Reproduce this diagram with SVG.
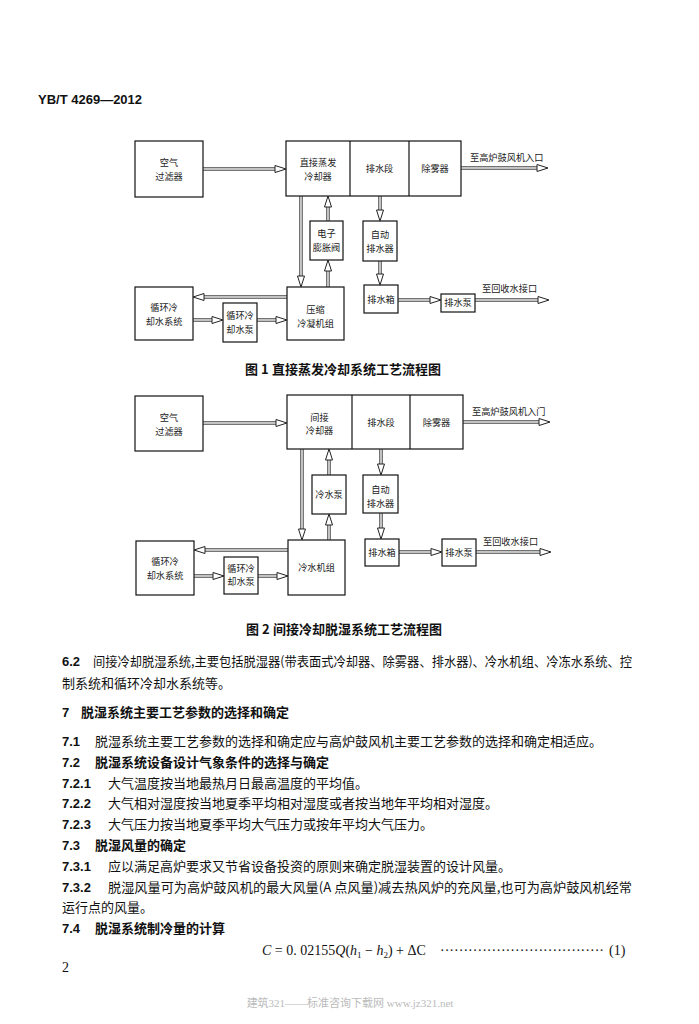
<svg xmlns="http://www.w3.org/2000/svg" width="699" height="1024" viewBox="0 0 699 1024">
<style>
.bx{fill:none;stroke:#111;stroke-width:1.2}
.t{font-family:"Noto Sans CJK SC",sans-serif;font-size:9.2px;fill:#222;text-anchor:middle}
.tl{font-family:"Noto Sans CJK SC",sans-serif;font-size:9.2px;fill:#222}
.sh{stroke:#222;stroke-width:0.9;fill:none}
.ah{fill:#fff;stroke:#222;stroke-width:1}
.bd{font-family:"Noto Sans CJK SC",sans-serif;font-size:13px;fill:#111}
.num{font-family:"Liberation Sans","Noto Sans CJK SC",sans-serif;font-size:13px;font-weight:bold;fill:#111}
.b{font-weight:bold}
.cap{font-family:"Noto Sans CJK SC",sans-serif;font-size:13px;font-weight:bold;fill:#111}
.eq{font-family:"Liberation Serif","Noto Sans CJK SC",serif;font-size:14px;fill:#111}
</style>
<rect width="699" height="1024" fill="#fff"/>
<text x="38" y="104" class="num">YB/T 4269—2012</text>

<!-- Figure 1 -->
<g id="f1-filter"><rect class="bx" x="135" y="141" width="68" height="56"/><text class="t" x="169" y="166">空气</text><text class="t" x="169" y="179.5">过滤器</text></g>
<g id="f1-main"><rect class="bx" x="286" y="141" width="175" height="55"/><line class="bx" x1="350" y1="141" x2="350" y2="196"/><line class="bx" x1="409" y1="141" x2="409" y2="196"/>
<text class="t" x="318" y="166">直接蒸发</text><text class="t" x="318" y="179.5">冷却器</text>
<text class="t" x="379.5" y="172">排水段</text><text class="t" x="435" y="172">除雾器</text></g>
<g id="f1-valve"><rect class="bx" x="310" y="221" width="33" height="39"/><text class="t" x="326.5" y="237">电子</text><text class="t" x="326.5" y="250.5">膨胀阀</text></g>
<g id="f1-auto"><rect class="bx" x="363" y="221" width="34" height="40"/><text class="t" x="380" y="238">自动</text><text class="t" x="380" y="251.5">排水器</text></g>
<g id="f1-comp"><rect class="bx" x="287" y="287" width="57" height="53"/><text class="t" x="315.5" y="313">压缩</text><text class="t" x="315.5" y="326.5">冷凝机组</text></g>
<g id="f1-cws"><rect class="bx" x="135" y="287" width="58" height="53"/><text class="t" x="164" y="311">循环冷</text><text class="t" x="164" y="324.5">却水系统</text></g>
<g id="f1-cwp"><rect class="bx" x="223" y="303" width="34" height="39"/><text class="t" x="240" y="319">循环冷</text><text class="t" x="240" y="332.5">却水泵</text></g>
<g id="f1-box"><rect class="bx" x="364" y="285" width="34" height="28"/><text class="t" x="381" y="302.5">排水箱</text></g>
<g id="f1-pump"><rect class="bx" x="441" y="294" width="34" height="18"/><text class="t" x="458" y="306">排水泵</text></g>
<text class="tl" x="470" y="161">至高炉鼓风机入口</text>
<text class="tl" x="482" y="292">至回收水接口</text>
<g id="f1-conn">
<path class="sh" d="M203 167.8H275M203 170.2H275"/><polygon class="ah" points="275,165.5 286,169 275,172.5"/>
<path class="sh" d="M461 166.8H537M461 169.2H537"/><polygon class="ah" points="537,164.5 548,168 537,171.5"/>
<path class="sh" d="M326.8 221V207M329.2 221V207"/><polygon class="ah" points="324.5,207 328,196 331.5,207"/>
<path class="sh" d="M299.8 196V276M302.2 196V276"/><polygon class="ah" points="297.5,276 301,287 304.5,276"/>
<path class="sh" d="M326.8 287V271M329.2 287V271"/><polygon class="ah" points="324.5,271 328,260 331.5,271"/>
<path class="sh" d="M287 295.8H204M287 298.2H204"/><polygon class="ah" points="204,293.5 193,297 204,300.5"/>
<path class="sh" d="M193 318.8H212M193 321.2H212"/><polygon class="ah" points="212,316.5 223,320 212,323.5"/>
<path class="sh" d="M257 318.8H276M257 321.2H276"/><polygon class="ah" points="276,316.5 287,320 276,323.5"/>
<path class="sh" d="M378.8 196V210M381.2 196V210"/><polygon class="ah" points="376.5,210 380,221 383.5,210"/>
<path class="sh" d="M378.8 261V274M381.2 261V274"/><polygon class="ah" points="376.5,274 380,285 383.5,274"/>
<path class="sh" d="M398 298.8H430M398 301.2H430"/><polygon class="ah" points="430,296.5 441,300 430,303.5"/>
<path class="sh" d="M475 298.8H538M475 301.2H538"/><polygon class="ah" points="538,296.5 549,300 538,303.5"/>
</g>
<text class="cap" x="245" y="374">图 1<tspan x="272">直接蒸发冷却系统工艺流程图</tspan></text>

<!-- Figure 2 -->
<g id="f2-filter"><rect class="bx" x="135" y="396" width="68" height="55"/><text class="t" x="169" y="421">空气</text><text class="t" x="169" y="434.5">过滤器</text></g>
<g id="f2-main"><rect class="bx" x="287" y="395" width="176" height="54"/><line class="bx" x1="352" y1="395" x2="352" y2="449"/><line class="bx" x1="410" y1="395" x2="410" y2="449"/>
<text class="t" x="319.5" y="420.5">间接</text><text class="t" x="319.5" y="434">冷却器</text>
<text class="t" x="381" y="425.5">排水段</text><text class="t" x="436.5" y="425.5">除雾器</text></g>
<g id="f2-cwpump"><rect class="bx" x="312" y="475" width="34" height="39"/><text class="t" x="329" y="497.5">冷水泵</text></g>
<g id="f2-auto"><rect class="bx" x="363" y="475" width="35" height="38"/><text class="t" x="380.5" y="493">自动</text><text class="t" x="380.5" y="506.5">排水器</text></g>
<g id="f2-chiller"><rect class="bx" x="288" y="540" width="57" height="55"/><text class="t" x="316.5" y="571">冷水机组</text></g>
<g id="f2-cws"><rect class="bx" x="136" y="541" width="58" height="54"/><text class="t" x="165" y="565">循环冷</text><text class="t" x="165" y="578.5">却水系统</text></g>
<g id="f2-cwp"><rect class="bx" x="224" y="557" width="34" height="37"/><text class="t" x="241" y="571.5">循环冷</text><text class="t" x="241" y="585">却水泵</text></g>
<g id="f2-box"><rect class="bx" x="365" y="539" width="34" height="27"/><text class="t" x="382" y="555.5">排水箱</text></g>
<g id="f2-pump"><rect class="bx" x="442" y="539" width="34" height="27"/><text class="t" x="459" y="555.5">排水泵</text></g>
<text class="tl" x="472" y="415">至高炉鼓风机入门</text>
<text class="tl" x="483" y="545">至回收水接口</text>
<g id="f2-conn">
<path class="sh" d="M203 421.8H276M203 424.2H276"/><polygon class="ah" points="276,419.5 287,423 276,426.5"/>
<path class="sh" d="M463 420.8H539M463 423.2H539"/><polygon class="ah" points="539,418.5 550,422 539,425.5"/>
<path class="sh" d="M327.8 475V460M330.2 475V460"/><polygon class="ah" points="325.5,460 329,449 332.5,460"/>
<path class="sh" d="M300.8 449V529M303.2 449V529"/><polygon class="ah" points="298.5,529 302,540 305.5,529"/>
<path class="sh" d="M327.8 540V525M330.2 540V525"/><polygon class="ah" points="325.5,525 329,514 332.5,525"/>
<path class="sh" d="M288 548.8H205M288 551.2H205"/><polygon class="ah" points="205,546.5 194,550 205,553.5"/>
<path class="sh" d="M194 574.8H213M194 577.2H213"/><polygon class="ah" points="213,572.5 224,576 213,579.5"/>
<path class="sh" d="M258 574.8H277M258 577.2H277"/><polygon class="ah" points="277,572.5 288,576 277,579.5"/>
<path class="sh" d="M379.8 449V464M382.2 449V464"/><polygon class="ah" points="377.5,464 381,475 384.5,464"/>
<path class="sh" d="M379.8 513V528M382.2 513V528"/><polygon class="ah" points="377.5,528 381,539 384.5,528"/>
<path class="sh" d="M399 550.8H431M399 553.2H431"/><polygon class="ah" points="431,548.5 442,552 431,555.5"/>
<path class="sh" d="M476 550.8H540M476 553.2H540"/><polygon class="ah" points="540,548.5 551,552 540,555.5"/>
</g>
<text class="cap" x="246" y="634">图 2<tspan x="273">间接冷却脱湿系统工艺流程图</tspan></text>

<!-- Body text -->
<text class="num" x="62" y="666">6.2</text>
<text class="bd" x="93" y="666" textLength="539" lengthAdjust="spacingAndGlyphs">间接冷却脱湿系统,主要包括脱湿器(带表面式冷却器、除雾器、排水器)、冷水机组、冷冻水系统、控</text>
<text class="bd" x="62" y="688">制系统和循环冷却水系统等。</text>
<text class="num" x="62" y="717">7</text>
<text class="bd b" x="81" y="717">脱湿系统主要工艺参数的选择和确定</text>
<text class="num" x="62" y="746">7.1</text>
<text class="bd" x="95" y="746">脱湿系统主要工艺参数的选择和确定应与高炉鼓风机主要工艺参数的选择和确定相适应。</text>
<text class="num" x="62" y="767">7.2</text>
<text class="bd b" x="95" y="767">脱湿系统设备设计气象条件的选择与确定</text>
<text class="num" x="62" y="788">7.2.1</text>
<text class="bd" x="108" y="788">大气温度按当地最热月日最高温度的平均值。</text>
<text class="num" x="62" y="808">7.2.2</text>
<text class="bd" x="108" y="808">大气相对湿度按当地夏季平均相对湿度或者按当地年平均相对湿度。</text>
<text class="num" x="62" y="829">7.2.3</text>
<text class="bd" x="108" y="829">大气压力按当地夏季平均大气压力或按年平均大气压力。</text>
<text class="num" x="62" y="850">7.3</text>
<text class="bd b" x="95" y="850">脱湿风量的确定</text>
<text class="num" x="62" y="871">7.3.1</text>
<text class="bd" x="108" y="871">应以满足高炉要求又节省设备投资的原则来确定脱湿装置的设计风量。</text>
<text class="num" x="62" y="892">7.3.2</text>
<text class="bd" x="108" y="892" textLength="524" lengthAdjust="spacingAndGlyphs">脱湿风量可为高炉鼓风机的最大风量(A 点风量)减去热风炉的充风量,也可为高炉鼓风机经常</text>
<text class="bd" x="62" y="912">运行点的风量。</text>
<text class="num" x="62" y="933">7.4</text>
<text class="bd b" x="95" y="933">脱湿系统制冷量的计算</text>

<text class="eq" x="262" y="955"><tspan font-style="italic">C</tspan> = 0. 02155<tspan font-style="italic">Q</tspan>(<tspan font-style="italic">h</tspan><tspan font-size="9" dy="3">1</tspan><tspan dy="-3"> − </tspan><tspan font-style="italic">h</tspan><tspan font-size="9" dy="3">2</tspan><tspan dy="-3">) + ΔC</tspan></text>
<text class="eq" x="440" y="955" textLength="164" lengthAdjust="spacing">···································</text>
<text class="eq" x="609" y="955">(1)</text>
<text class="eq" x="62" y="972" font-size="12">2</text>
<text x="350" y="1007" text-anchor="middle" font-family="Liberation Serif, Noto Sans CJK SC, serif" font-size="11" fill="#bbb">建筑321——标准咨询下载网    www.jz321.net</text>
</svg>
